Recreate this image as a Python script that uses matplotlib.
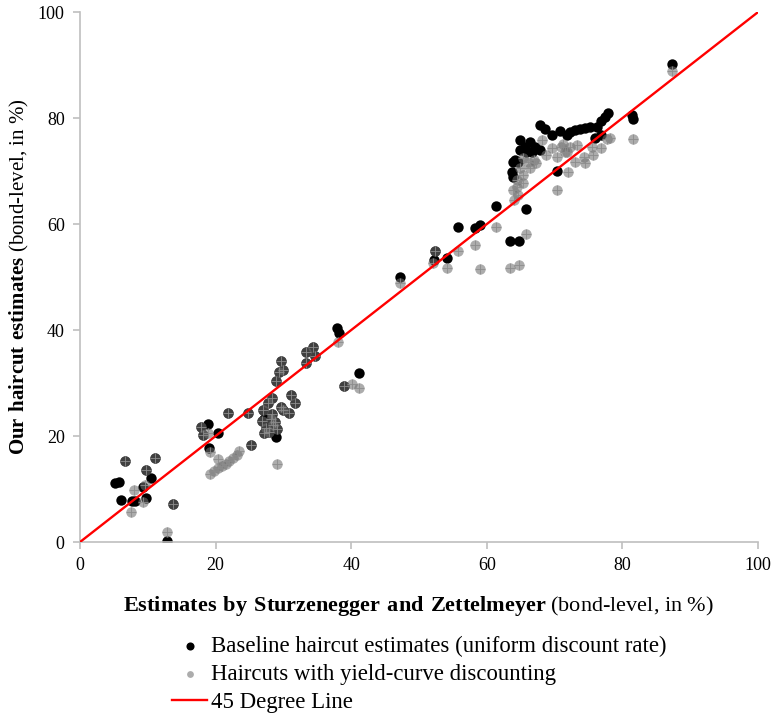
import matplotlib.pyplot as plt

plt.rcParams['font.family'] = ['Liberation Serif', 'DejaVu Serif']
plt.rcParams['mathtext.fontset'] = 'custom'
plt.rcParams['mathtext.rm'] = 'Liberation Serif'
plt.rcParams['mathtext.bf'] = 'Liberation Serif:bold'

# baseline haircuts (uniform discount rate): SZ estimate vs our estimate
base_x = [5.2, 5.8, 6.1, 7.6, 8.1, 9.3, 9.8, 10.5, 12.9,
          6.6, 11.1, 9.8, 13.7,
          18.9, 20.3, 19.1, 28.9, 27.1, 37.9, 38.2, 41.2,
          17.9, 18.2, 21.9, 24.8, 25.2, 34.3, 33.4, 34.6, 33.4, 29.7, 29.4, 30.0,
          28.9, 38.9, 31.1, 31.7, 28.3, 27.8, 27.0, 29.7, 30.0, 30.9, 28.3,
          26.8, 27.4, 27.9, 28.5, 29.1, 27.2, 28.1, 28.8,
          47.2, 52.2, 54.2, 55.7, 58.2, 59.0, 61.3, 63.4, 64.7, 65.8, 52.3,
          87.3, 81.4, 81.6, 77.9, 77.4, 76.9, 76.3, 76.0, 75.2, 74.5, 73.7, 73.0,
          72.3, 70.8, 71.8, 69.6, 67.8, 68.6, 70.3, 76.9,
          64.9, 66.4, 65.6, 67.1, 67.8, 64.9, 65.8, 66.6, 64.2, 64.6, 63.7, 63.9, 63.9]
base_y = [11.1, 11.4, 7.9, 7.8, 7.8, 10.3, 8.4, 12.0, 0.25,
          15.3, 15.9, 13.6, 7.2,
          22.3, 20.6, 17.7, 19.8, 23.3, 40.3, 39.4, 31.9,
          21.8, 20.2, 24.4, 24.4, 18.4, 36.8, 35.9, 35.1, 33.7, 34.2, 32.1, 32.5,
          30.4, 29.5, 27.7, 26.2, 27.1, 26.2, 25.0, 25.5, 25.0, 24.3, 24.2,
          22.8, 21.5, 20.8, 22.0, 21.3, 20.6, 23.2, 22.6,
          50.1, 53.3, 53.6, 59.5, 59.3, 59.8, 63.4, 56.9, 56.9, 62.8, 54.9,
          90.3, 80.6, 79.9, 80.9, 80.2, 79.5, 78.4, 76.3, 78.4, 78.2, 77.9, 77.7,
          77.4, 77.5, 76.8, 76.8, 78.7, 77.9, 70.1, 76.8,
          75.8, 75.5, 74.6, 74.6, 74.0, 74.0, 73.6, 73.6, 72.1, 71.8, 69.9, 68.9, 71.8]

# haircuts with yield-curve discounting
yc_x = [6.6, 11.1, 9.8, 13.7, 8.0, 9.6, 9.3, 7.5, 12.9,
        17.9, 18.2, 21.9, 24.8, 25.2, 18.9, 19.2, 20.3,
        19.2, 19.8, 20.3, 20.9, 21.5, 22.0, 22.6, 23.1, 23.4,
        34.3, 33.4, 34.6, 33.4, 29.7, 29.4, 30.0, 28.9, 38.9, 31.1, 31.7,
        28.3, 27.8, 27.0, 29.7, 30.0, 30.9, 28.3,
        26.8, 27.4, 27.9, 28.5, 29.1, 27.2, 28.1, 28.8,
        29.0, 38.1, 40.1, 41.2, 47.2, 52.3, 52.1, 54.2, 55.8, 58.3, 59.0, 61.4,
        63.4, 64.7, 65.8, 64.0,
        87.3, 81.5, 70.3, 72.0, 77.7, 78.2, 73.3, 75.5, 76.9, 75.7, 74.3, 74.5,
        73.0, 72.3, 71.8, 71.3, 65.4, 66.1, 66.9, 67.3, 66.4, 64.9, 65.4, 64.4,
        65.4, 68.1, 69.6, 71.0, 68.8, 70.3, 71.5, 64.4, 63.9, 64.6]
yc_y = [15.3, 15.9, 13.6, 7.2, 9.9, 10.8, 7.6, 5.6, 1.8,
        21.8, 20.2, 24.4, 24.4, 18.4, 20.5, 16.9, 15.6,
        12.8, 13.4, 13.9, 14.3, 14.8, 15.3, 15.9, 16.5, 17.1,
        36.8, 35.9, 35.1, 33.7, 34.2, 32.1, 32.5, 30.4, 29.5, 27.7, 26.2,
        27.1, 26.2, 25.0, 25.5, 25.0, 24.3, 24.2,
        22.8, 21.5, 20.8, 22.0, 21.3, 20.6, 23.2, 22.6,
        14.8, 37.8, 29.9, 29.1, 48.9, 54.9, 52.6, 51.8, 55.0, 56.0, 51.6, 59.4,
        51.8, 52.2, 58.1, 64.5,
        88.9, 76.0, 66.4, 69.8, 76.0, 76.2, 74.9, 74.6, 74.3, 73.0, 72.7, 71.5,
        71.8, 74.6, 73.6, 75.2, 72.4, 71.8, 72.1, 71.5, 70.5, 70.5, 69.2, 68.3,
        67.7, 75.8, 74.3, 74.6, 73.0, 72.7, 73.6, 67.0, 66.4, 65.5]

line = [0, 100]
ticks = [0, 20, 40, 60, 80, 100]

fig = plt.figure(figsize=(7.73, 7.16), dpi=100)
ax = fig.add_axes([0.1035, 0.243, 0.877, 0.740])

ax.scatter(base_x, base_y, s=56, color='black', linewidths=0, zorder=2,
           label='Baseline haircut estimates (uniform discount rate)')
ax.scatter(yc_x, yc_y, s=56, color='#707070', alpha=0.58, linewidths=0, zorder=3,
           label='Haircuts with yield-curve discounting')
ax.scatter(yc_x, yc_y, s=44, marker='+', color='#8c8c8c', linewidths=0.6, zorder=3)
ax.plot(line, line, color='#ff0000', lw=1.7, zorder=4, label='45 Degree Line')

ax.set_xlim(0, 100)
ax.set_ylim(0, 100)
ax.set_xticks(ticks)
ax.set_yticks(ticks)
for side in ['top', 'right']:
    ax.spines[side].set_visible(False)
for side in ['left', 'bottom']:
    ax.spines[side].set_color('#bfbfbf')
    ax.spines[side].set_linewidth(1.2)
ax.tick_params(direction='out', length=5, width=1.2, color='#bfbfbf',
               labelsize=13, pad=6)

ax.set_xlabel(r'$\mathbf{Estimates\ by\ Sturzenegger\ and\ Zettelmeyer}$ (bond-level, in %)',
              fontsize=16, labelpad=14)
ax.set_ylabel(r'$\mathbf{Our\ haircut\ estimates}$ (bond-level, in %)',
              fontsize=15, labelpad=5)

handles, labels = ax.get_legend_handles_labels()
leg = fig.legend(handles, labels, loc='upper left',
                 bbox_to_anchor=(172 / 773, 1 - 636 / 716), frameon=False,
                 fontsize=16.4, handlelength=1.55, handletextpad=0.15,
                 labelspacing=0.3, borderpad=0, borderaxespad=0)
leg.legend_handles[0].set_sizes([34])
leg.legend_handles[1].set_sizes([24])

fig.savefig('out.png', dpi=100)
